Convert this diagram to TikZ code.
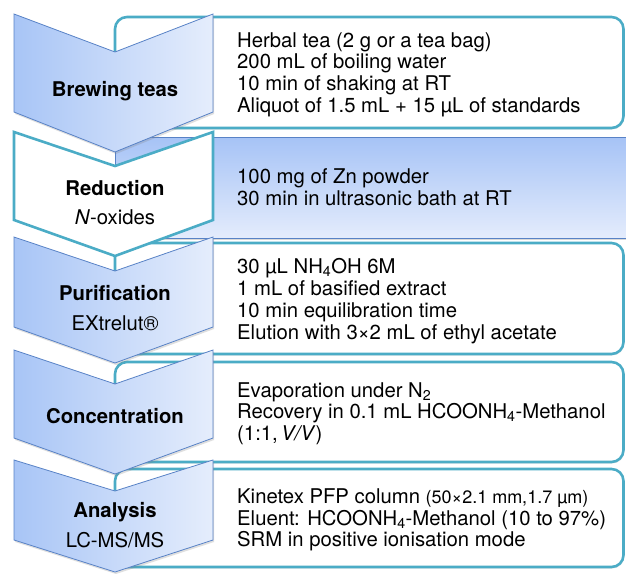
\documentclass[tikz,border=0pt]{standalone}
\usepackage{fontspec}
\setmainfont{TeX Gyre Heros}
\usetikzlibrary{shadows}
\definecolor{tealline}{RGB}{75,172,198}
\definecolor{chevL}{RGB}{168,197,246}
\definecolor{chevR}{RGB}{229,237,252}
\definecolor{chevB}{RGB}{88,130,198}
\definecolor{pTop}{RGB}{228,236,252}
\definecolor{pBot}{RGB}{166,195,246}
\tikzset{
  panel/.style={draw=tealline, line width=2.6pt, fill=white, rounded corners=12pt,
    drop shadow={opacity=0.18, shadow xshift=0.8pt, shadow yshift=-1.5pt}},
  bluepanel/.style={draw=chevB, line width=0.8pt, top color=pBot, bottom color=pTop,
    drop shadow={opacity=0.3, shadow xshift=0.8pt, shadow yshift=-1.5pt}},
  chev/.style={draw=chevB, line width=0.8pt, left color=chevL, right color=chevR, line join=miter,
    drop shadow={opacity=0.25, shadow xshift=1pt, shadow yshift=-2pt}},
  whitechev/.style={draw=tealline, line width=2.6pt, fill=white, line join=miter},
  lbl/.style={anchor=base, inner sep=0pt, font=\fontsize{20.3}{22}\selectfont\bfseries},
  sublbl/.style={anchor=base, inner sep=0pt, font=\fontsize{20.3}{22}\selectfont},
  txt/.style={anchor=base west, inner sep=0pt, font=\fontsize{20.3}{22}\selectfont},
}
\newcommand{\smallpart}[1]{{\fontsize{18}{20}\selectfont #1}}
\begin{document}
\begin{tikzpicture}[x=1pt,y=-1pt]
\useasboundingbox (0,0) rectangle (626,573);
% panels
\draw[panel] (115,17) rectangle (623.5,128);
\draw[bluepanel] (115,137) rectangle (628,238);
\draw[panel] (115,243) rectangle (623.5,354);
\draw[panel] (115,362) rectangle (623.5,462);
\draw[panel] (115,469) rectangle (623.5,567);
% chevrons
\path[chev] (14,14) -- (115,52) -- (213,14) -- (213,112) -- (115,152) -- (14,112) -- cycle;
\path[whitechev] (14,132) -- (115,166) -- (213,132) -- (213,220) -- (115,256) -- (14,220) -- cycle;
\path[chev] (14,237) -- (115,271) -- (213,237) -- (213,327) -- (115,363) -- (14,327) -- cycle;
\path[chev] (14,350) -- (115,384) -- (213,350) -- (213,438) -- (115,474) -- (14,438) -- cycle;
\path[chev] (14,460) -- (115,491) -- (213,460) -- (213,540) -- (115,572) -- (14,540) -- cycle;
% chevron labels
\node[lbl] (l1) at (115,96) {Brewing teas};
\node[lbl] (l2) at (115,195) {Reduction};
\node[sublbl] (l2b) at (115,224) {\textit{N}-oxides};
\node[lbl] (l3) at (115,300) {Purification};
\node[sublbl] (l3b) at (115,330) {EXtrelut®};
\node[lbl] (l4) at (115,423) {Concentration};
\node[lbl] (l5) at (115,517) {Analysis};
\node[sublbl] (l5b) at (115,547) {LC-MS/MS};
% panel texts
\node[txt] (a1) at (237,47) {Herbal tea (2 g or a tea bag)};
\node[txt] (a2) at (237,68.7) {200 mL of boiling water};
\node[txt] (a3) at (237,90.5) {10 min of shaking at RT};
\node[txt] (a4) at (237,112.5) {Aliquot of 1.5 mL + 15 µL of standards};
\node[txt] (b1) at (237,183) {100 mg of Zn powder};
\node[txt] (b2) at (237,205) {30 min in ultrasonic bath at RT};
\node[txt] (c1) at (237,273) {30 µL NH\textsubscript{4}OH 6M};
\node[txt] (c2) at (237,295) {1 mL of basified extract};
\node[txt] (c3) at (237,317) {10 min equilibration time};
\node[txt] (c4) at (237,339) {Elution with 3×2 mL of ethyl acetate};
\node[txt] (d1) at (237,397) {Evaporation under N\textsubscript{2}};
\node[txt] (d2) at (237,418.5) {Recovery in 0.1 mL HCOONH\textsubscript{4}-Methanol};
\node[txt] (d3) at (237,440) {(1:1,\,\textit{V/V})};
\node[txt] (e1) at (237,503) {Kinetex PFP column \smallpart{(50×2.1 mm,1.7 µm)}};
\node[txt] (e2) at (237,525) {Eluent: HCOONH\textsubscript{4}-Methanol (10 to 97\%)};
\node[txt] (e3) at (237,546.5) {SRM in positive ionisation mode};
\end{tikzpicture}
\end{document}
